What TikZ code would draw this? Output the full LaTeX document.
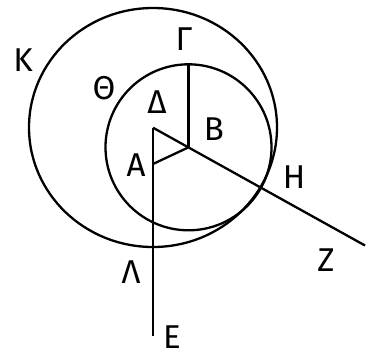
\documentclass[tikz,border=0pt]{standalone}
\usepackage{fontspec}
\setmainfont{Fira Sans}
\begin{document}
\begin{tikzpicture}[x=1pt,y=-1pt,
  geo/.style={line width=2.3pt,black},
  lbl/.style={inner sep=0pt,anchor=center,font=\fontsize{33}{33}\selectfont}]
\useasboundingbox (0,0) rectangle (370,357);
% points
\coordinate (Bc) at (188.5,147.3);
\coordinate (Gt) at (188.5,64);
\coordinate (At) at (153,127.7);
\coordinate (Al) at (153,164);
\coordinate (Ee) at (153,336);
\coordinate (Ze) at (365,245.5);
% circles
\draw[geo] (153,127.5) ellipse [x radius=124pt, y radius=119.5pt];
\draw[geo] (Bc) circle [radius=83pt];
% lines
\draw[geo] (Gt) -- (Bc);
\draw[geo] (At) -- (Ze);
\draw[geo] (Al) -- (Bc);
\draw[geo] (At) -- (Ee);
% labels
\node[lbl] (K) at (23,60) {Κ};
\node[lbl] (Th) at (104,88) {Θ};
\node[lbl] (G) at (184,39) {Γ};
\node[lbl] (D) at (157,102) {Δ};
\node[lbl] (B) at (214,129) {Β};
\node[lbl] (A) at (136,165) {Α};
\node[lbl] (H) at (294,177) {Η};
\node[lbl] (Z) at (326,260) {Ζ};
\node[lbl] (L) at (131,272) {Λ};
\node[lbl] (E) at (172,337) {Ε};
\end{tikzpicture}
\end{document}
